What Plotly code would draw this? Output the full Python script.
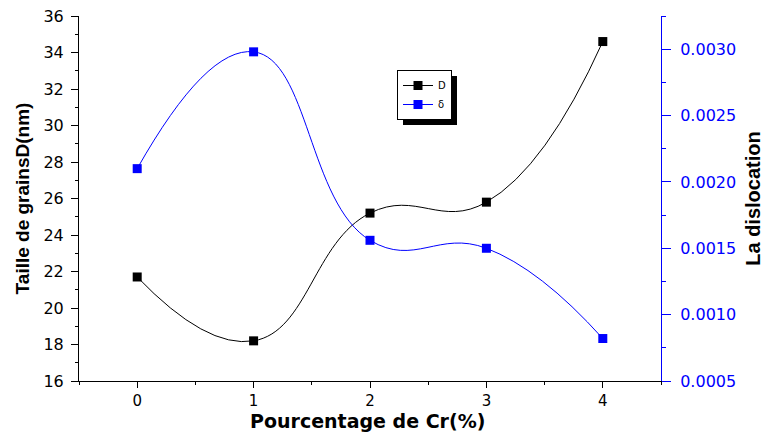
import plotly.graph_objects as go

# Cr content (%) and measured quantities
cr_pct = [0, 1, 2, 3, 4]
grain_size_nm = [21.7, 18.2, 25.2, 25.8, 34.6]
dislocation = [0.00210, 0.00298, 0.00156, 0.00150, 0.00082]

left_ticks = list(range(16, 37, 2))
right_ticks = [0.0005, 0.0010, 0.0015, 0.0020, 0.0025, 0.0030]

FONT = "Liberation Sans, Arial, sans-serif"
WIDE = "DejaVu Sans, Liberation Sans, sans-serif"

# plot area in pixels (used for the legend box and its shadow)
PL, PR, PT, PB = 79, 661, 16, 381
PW, PH = PR - PL, PB - PT


def px_x(v):
    return (v - PL) / PW


def px_y(v):
    return 1 - (v - PT) / PH


fig = go.Figure()

fig.add_trace(go.Scatter(
    x=cr_pct, y=grain_size_nm, name="D", mode="lines+markers",
    line=dict(color="black", width=1, shape="spline", smoothing=1.3),
    marker=dict(symbol="square", size=9, color="black"),
    yaxis="y",
))
fig.add_trace(go.Scatter(
    x=cr_pct, y=dislocation, name="δ", mode="lines+markers",
    line=dict(color="#0000ff", width=1, shape="spline", smoothing=1.3),
    marker=dict(symbol="square", size=9, color="#0000ff"),
    yaxis="y2",
))

# legend drop shadow
fig.add_shape(type="rect", xref="paper", yref="paper",
              x0=px_x(403), x1=px_x(457), y0=px_y(125), y1=px_y(76),
              fillcolor="black", line=dict(width=0), layer="below")

# x-axis title placed close under the tick labels
fig.add_annotation(text="<b>Pourcentage de Cr(%)</b>", xref="paper", yref="paper",
                   x=0.495, y=0, xanchor="center", yanchor="middle", yshift=-40,
                   showarrow=False, font=dict(size=19, family=WIDE, color="black"))

fig.update_layout(
    width=766, height=432,
    margin=dict(l=PL, r=766 - PR, t=PT, b=432 - PB),
    plot_bgcolor="white", paper_bgcolor="white",
    font=dict(family=FONT, color="black"),
    showlegend=True,
    legend=dict(x=px_x(397), y=px_y(70),
                xanchor="left", yanchor="top",
                bgcolor="white", bordercolor="black", borderwidth=1,
                font=dict(size=10, family=WIDE, color="black"),
                itemwidth=30, tracegroupgap=0),
    xaxis=dict(
        range=[-0.5, 4.5], tickvals=cr_pct, ticktext=[str(v) for v in cr_pct],
        ticks="outside", ticklen=6, tickcolor="black", ticklabelstandoff=0,
        minor=dict(dtick=0.5, tick0=0.5, ticks="outside", ticklen=3, tickcolor="black"),
        showline=True, linecolor="black", linewidth=1, showgrid=False, zeroline=False,
        tickfont=dict(size=15, family=WIDE, color="black"),
        automargin=False,
    ),
    xaxis2=dict(
        range=[-0.5, 4.5], overlaying="x", side="top", tickvals=cr_pct,
        ticks="inside", ticklen=6, tickcolor="black", showticklabels=False,
        minor=dict(dtick=0.5, tick0=0.5, ticks="inside", ticklen=3, tickcolor="black"),
        showline=True, linecolor="black", linewidth=1, showgrid=False, zeroline=False,
    ),
    yaxis=dict(
        range=[16, 36], tickvals=left_ticks,
        ticks="outside", ticklen=7, tickcolor="black", ticklabelstandoff=4,
        minor=dict(dtick=1, tick0=17, ticks="outside", ticklen=3, tickcolor="black"),
        showline=True, linecolor="black", linewidth=1, showgrid=False, zeroline=False,
        tickfont=dict(size=16, family=WIDE, color="black"),
        title=dict(text="<b>Taille de grainsD(nm)</b>", font=dict(size=19), standoff=8),
        automargin=False,
    ),
    yaxis2=dict(
        range=[0.0005, 0.00325], overlaying="y", side="right",
        tickvals=right_ticks, tickformat=".4f",
        ticks="outside", ticklen=9, tickcolor="#0000ff", ticklabelstandoff=6,
        minor=dict(dtick=0.00025, tick0=0.00075, ticks="outside", ticklen=4, tickcolor="#0000ff"),
        showline=True, linecolor="#0000ff", linewidth=1, showgrid=False, zeroline=False,
        tickfont=dict(size=16, family=WIDE, color="#0000ff"),
        title=dict(text="<b>La dislocation</b>", font=dict(size=20, color="black"), standoff=10),
        automargin=False,
    ),
)

fig.write_html("out.html")
